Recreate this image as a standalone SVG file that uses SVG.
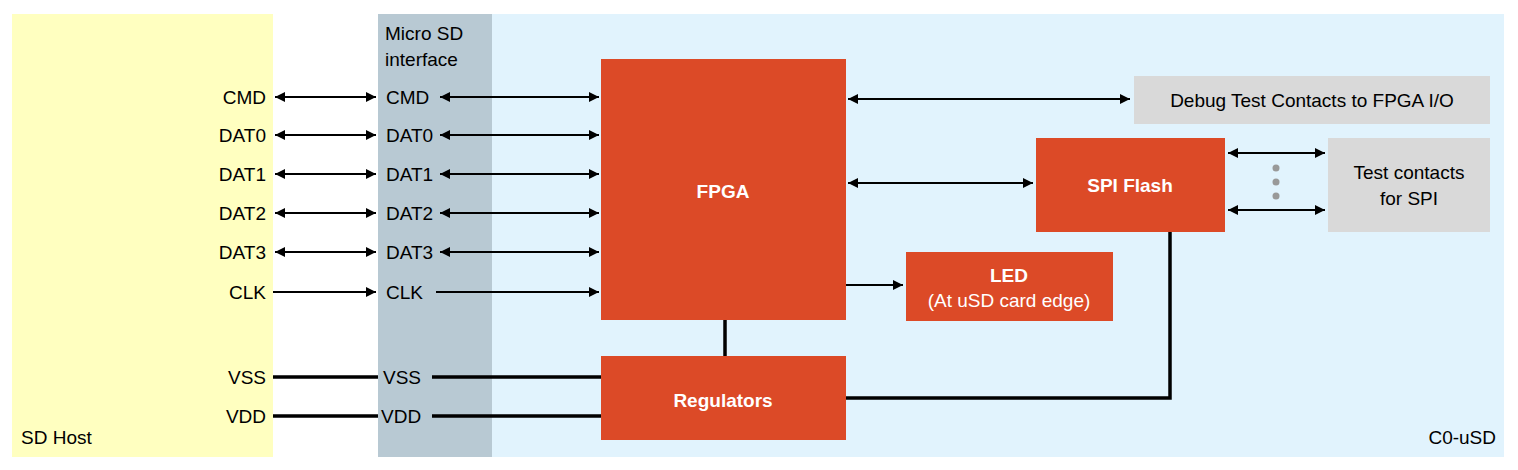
<svg xmlns="http://www.w3.org/2000/svg" width="1518" height="470" viewBox="0 0 1518 470">
<style>
text{font-family:"Liberation Sans",Arial,sans-serif;font-size:19px;fill:#000}
.w{fill:#fff;font-weight:bold}
.box{fill:#dc4a27}
.ln{stroke:#000;stroke-width:2;fill:none}
.b{marker-start:url(#a);marker-end:url(#a)}
.e{marker-end:url(#a)}
.pw{stroke:#000;stroke-width:3.5;fill:none}
</style>
<defs>
<marker id="a" viewBox="0 0 10 10" refX="10" refY="5" markerWidth="5" markerHeight="5" orient="auto-start-reverse"><path d="M0,0L10,5L0,10z" fill="#000"/></marker>
</defs>
<g id="bg">
<rect x="12" y="14" width="261" height="443" fill="#ffffc0"/>
<rect x="378" y="14" width="1126" height="443" fill="#e1f3fd"/>
<rect x="378" y="14" width="114" height="443" fill="#b8c9d3"/>
<text x="21" y="444">SD Host</text>
<text x="1496" y="444" text-anchor="end">C0-uSD</text>
<text x="385" y="40">Micro SD</text>
<text x="385" y="66">interface</text>
</g>
<g id="host" text-anchor="end">
<text x="266" y="104">CMD</text><text x="266" y="142">DAT0</text><text x="266" y="181">DAT1</text><text x="266" y="220">DAT2</text><text x="266" y="259">DAT3</text><text x="266" y="299">CLK</text><text x="266" y="384">VSS</text><text x="266" y="423">VDD</text>
</g>
<g id="iface">
<text x="386" y="104">CMD</text><text x="386" y="142">DAT0</text><text x="386" y="181">DAT1</text><text x="386" y="220">DAT2</text><text x="386" y="259">DAT3</text><text x="386" y="299">CLK</text><text x="383" y="384">VSS</text><text x="381" y="423">VDD</text>
</g>
<g id="fpga"><rect class="box" x="601" y="59" width="245" height="261"/><text class="w" x="723" y="198" text-anchor="middle">FPGA</text></g>
<g id="reg"><rect class="box" x="601" y="356" width="245" height="84"/><text class="w" x="723" y="407" text-anchor="middle">Regulators</text></g>
<g id="led"><rect class="box" x="906" y="252" width="207" height="69"/><text class="w" x="1009" y="282" text-anchor="middle">LED</text><text x="1009" y="307" text-anchor="middle" style="fill:#fff">(At uSD card edge)</text></g>
<g id="spi"><rect class="box" x="1036" y="138" width="189" height="94"/><text class="w" x="1130" y="192" text-anchor="middle">SPI Flash</text></g>
<g id="debug"><rect x="1134" y="76" width="356" height="48" fill="#d9d9d9"/><text x="1312" y="107" text-anchor="middle">Debug Test Contacts to FPGA I/O</text></g>
<g id="test"><rect x="1328" y="138" width="162" height="94" fill="#d9d9d9"/><text x="1409" y="179" text-anchor="middle">Test contacts</text><text x="1409" y="205" text-anchor="middle">for SPI</text></g>
<g id="connectors">
<path class="ln b" d="M275,97H376"/><path class="ln b" d="M275,135H376"/><path class="ln b" d="M275,174H376"/><path class="ln b" d="M275,213H376"/><path class="ln b" d="M275,252H376"/>
<path class="ln b" d="M440,97H599"/><path class="ln b" d="M440,135H599"/><path class="ln b" d="M440,174H599"/><path class="ln b" d="M440,213H599"/><path class="ln b" d="M440,252H599"/>
<path class="ln e" d="M273,292H376"/><path class="ln e" d="M436,292H599"/>
<path class="ln b" d="M848,99H1130"/><path class="ln b" d="M848,183H1033"/><path class="ln b" d="M1228,153H1325"/><path class="ln b" d="M1228,210H1325"/>
<path class="ln e" d="M846,285H903"/>
<path class="pw" d="M273,377H378M432,377H601M273,416H378M432,416H601M725,320V356M846,398H1170V232"/>
<g fill="#999"><circle cx="1276" cy="168" r="3.5"/><circle cx="1276" cy="182" r="3.5"/><circle cx="1276" cy="196" r="3.5"/></g>
</g>
</svg>
